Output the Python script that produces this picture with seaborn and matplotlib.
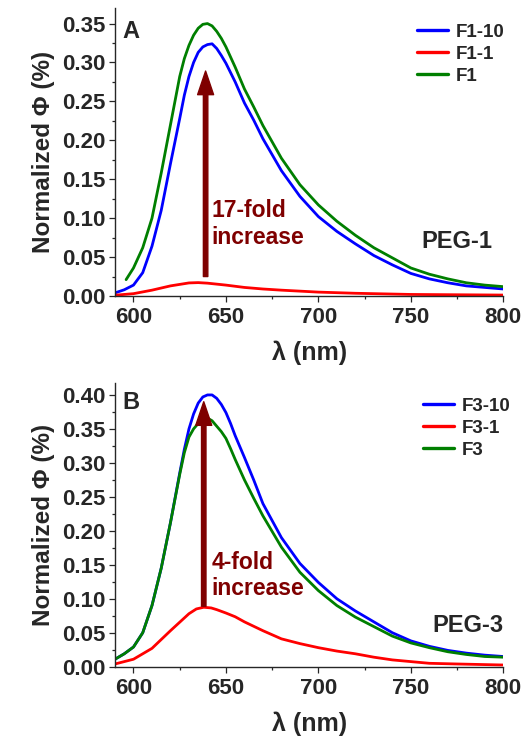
import numpy as np
import pandas as pd
import matplotlib
matplotlib.use("Agg")
import matplotlib.pyplot as plt
from matplotlib.ticker import MultipleLocator, FormatStrFormatter
import seaborn as sns

# ---- panel A (PEG-1) ----
wl_a = [590, 595, 600, 605, 610, 615, 620, 625, 627.5, 630, 632.5, 635, 637.5, 640,
        642.5, 645, 647.5, 650, 652.5, 655, 660, 665, 670, 680, 690, 700, 710, 720,
        730, 740, 750, 760, 770, 780, 790, 800]
f1_10 = [0.004, 0.008, 0.014, 0.030, 0.064, 0.110, 0.170, 0.228, 0.258, 0.282, 0.300,
         0.313, 0.320, 0.323, 0.324, 0.318, 0.309, 0.299, 0.287, 0.275, 0.248, 0.226,
         0.202, 0.161, 0.128, 0.102, 0.083, 0.067, 0.052, 0.040, 0.029, 0.022, 0.017,
         0.013, 0.011, 0.009]
wl_f1 = [596, 600, 605, 610, 615, 620, 625, 627.5, 630, 632.5, 635, 637.5, 640, 642.5,
         645, 647.5, 650, 652.5, 655, 660, 665, 670, 680, 690, 700, 710, 720, 730,
         740, 750, 760, 770, 780, 790, 800]
f1 = [0.021, 0.036, 0.062, 0.100, 0.158, 0.220, 0.282, 0.305, 0.322, 0.335, 0.344,
      0.349, 0.350, 0.347, 0.340, 0.331, 0.320, 0.307, 0.294, 0.266, 0.243, 0.219,
      0.177, 0.143, 0.117, 0.096, 0.078, 0.062, 0.049, 0.036, 0.028, 0.022, 0.017,
      0.014, 0.012]
wl_f1_1 = [590, 600, 610, 620, 630, 635, 640, 650, 660, 670, 680, 700, 720, 750, 800]
f1_1 = [0.001, 0.003, 0.0075, 0.013, 0.0168, 0.0172, 0.0165, 0.014, 0.011, 0.009,
        0.0075, 0.005, 0.0035, 0.002, 0.0012]

# ---- panel B (PEG-3) ----
wl_b = wl_a
f3_10 = [0.011, 0.019, 0.029, 0.050, 0.090, 0.145, 0.212, 0.285, 0.320, 0.350, 0.372,
         0.388, 0.397, 0.400, 0.400, 0.395, 0.386, 0.374, 0.358, 0.340, 0.308, 0.275,
         0.240, 0.190, 0.152, 0.124, 0.100, 0.082, 0.066, 0.050, 0.038, 0.030, 0.024,
         0.020, 0.017, 0.015]
f3 = [0.011, 0.019, 0.029, 0.050, 0.090, 0.145, 0.212, 0.283, 0.315, 0.338, 0.350,
      0.358, 0.363, 0.366, 0.362, 0.354, 0.346, 0.336, 0.321, 0.305, 0.275, 0.248,
      0.222, 0.176, 0.139, 0.112, 0.090, 0.073, 0.059, 0.045, 0.035, 0.028, 0.022,
      0.018, 0.015, 0.014]
wl_f3_1 = [590, 600, 610, 620, 630, 634, 638, 642, 645, 650, 655, 660, 670, 680, 690,
           700, 710, 720, 730, 740, 750, 760, 775, 800]
f3_1 = [0.004, 0.011, 0.027, 0.053, 0.078, 0.085, 0.0875, 0.0865, 0.084, 0.079, 0.0735,
        0.066, 0.053, 0.041, 0.034, 0.028, 0.023, 0.019, 0.014, 0.010, 0.0075, 0.005,
        0.004, 0.0025]

sns.set_style("ticks")
plt.rcParams['font.family'] = ['Liberation Sans', 'DejaVu Sans']
plt.rcParams['font.weight'] = 'bold'
plt.rcParams['axes.labelweight'] = 'bold'

BLUE, RED, GREEN, ARROW = '#0000ff', '#ff0000', '#007f00', '#7f0000'

fig = plt.figure(figsize=(5.28, 7.38), dpi=100)
ax_a = fig.add_axes([115 / 528, 1 - 296 / 738, 388.3 / 528, 288 / 738])
ax_b = fig.add_axes([115 / 528, 1 - 666.7 / 738, 388.3 / 528, 284 / 738])


def panel(ax, series, ymax, letter, letter_y, tag, arrow, note, note_y, leg_xy):
    for wl, vals, col, lab in series:
        sns.lineplot(x=wl, y=vals, color=col, label=lab, lw=2.0, ax=ax)
    ax.set_xlim(590, 800)
    ax.set_ylim(0, ymax)
    ax.xaxis.set_major_locator(MultipleLocator(50))
    ax.xaxis.set_minor_locator(MultipleLocator(25))
    ax.yaxis.set_major_locator(MultipleLocator(0.05))
    ax.yaxis.set_minor_locator(MultipleLocator(0.025))
    ax.yaxis.set_major_formatter(FormatStrFormatter('%.2f'))
    ax.tick_params(which='major', length=4, width=0.9, labelsize=16, pad=3)
    ax.tick_params(axis='x', which='major', pad=4)
    ax.tick_params(which='minor', length=2.2, width=0.9)
    sns.despine(ax=ax)
    for s in ('left', 'bottom'):
        ax.spines[s].set_linewidth(1.0)
    ax.set_xlabel('λ (nm)', fontsize=18, labelpad=9)
    ax.set_ylabel('Normalized Φ (%)', fontsize=17.5, labelpad=5)
    ax.text(0.02, letter_y, letter, transform=ax.transAxes, fontsize=17,
            ha='left', va='top')
    ax.text(tag[0], tag[1], tag[2], fontsize=17, ha='right', va='top')
    x0, y0, y1 = arrow
    ax.annotate('', xy=(x0, y1), xytext=(x0, y0),
                arrowprops=dict(facecolor=ARROW, edgecolor=ARROW, width=3.2,
                                headwidth=11.5, headlength=17))
    ax.text(642, note_y, note, color=ARROW, fontsize=16.5, ha='left', va='top',
            linespacing=1.2)
    leg = ax.legend(loc='upper left', bbox_to_anchor=leg_xy, frameon=False,
                    fontsize=13.5, handlelength=1.65, handletextpad=0.4,
                    labelspacing=0.25, borderaxespad=0, borderpad=0)
    for ln in leg.get_lines():
        ln.set_linewidth(2.4)


panel(ax_a, [(wl_a, f1_10, BLUE, 'F1-10'), (wl_f1_1, f1_1, RED, 'F1-1'),
             (wl_f1, f1, GREEN, 'F1')],
      0.37, 'A', 0.958, (794, 0.085, 'PEG-1'), (639, 0.025, 0.289),
      '17-fold\nincrease', 0.124, (0.778, 0.945))
panel(ax_b, [(wl_b, f3_10, BLUE, 'F3-10'), (wl_f3_1, f3_1, RED, 'F3-1'),
             (wl_b, f3, GREEN, 'F3')],
      0.418, 'B', 0.972, (800, 0.077, 'PEG-3'), (638, 0.089, 0.390),
      '4-fold\nincrease', 0.171, (0.793, 0.947))

fig.savefig('out.png', dpi=100)
